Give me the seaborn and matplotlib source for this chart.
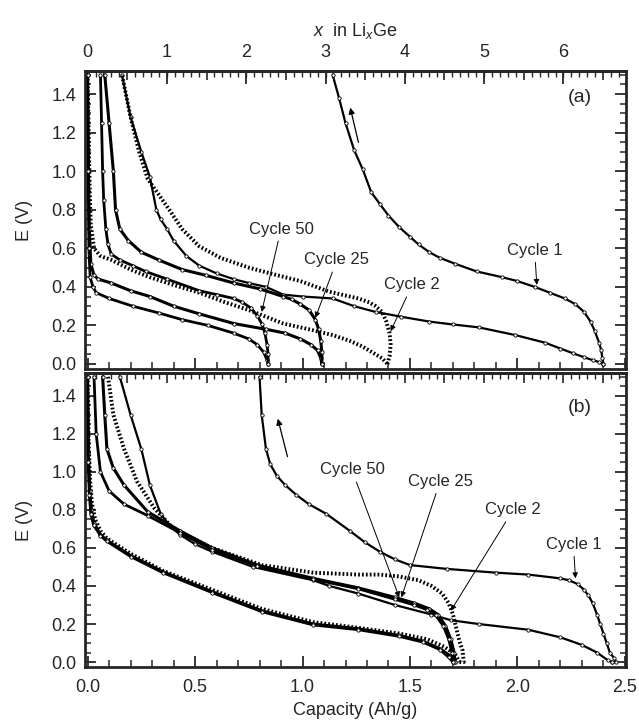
import numpy as np
import pandas as pd
import matplotlib
matplotlib.use("Agg")
import matplotlib.pyplot as plt
from matplotlib.ticker import MultipleLocator, NullFormatter, FuncFormatter, FixedLocator
import seaborn as sns

sns.set_style("ticks")
plt.rcParams['font.family'] = ['Liberation Sans', 'DejaVu Sans']
plt.rcParams['mathtext.fontset'] = 'custom'
plt.rcParams['mathtext.rm'] = 'Liberation Sans'
plt.rcParams['mathtext.it'] = 'Liberation Sans:italic'

# ---------------- data: panel (a) ----------------
a_c1_dis_cap = [0.16, 0.20, 0.25, 0.29, 0.32, 0.34, 0.37, 0.40, 0.46, 0.52, 0.60, 0.68, 0.75, 0.83,
                0.91, 1.00, 1.14, 1.24, 1.34, 1.46, 1.59, 1.70, 1.82, 1.99, 2.13, 2.20, 2.26, 2.31,
                2.35, 2.38, 2.40]
a_c1_dis_E = [1.50, 1.28, 1.10, 0.97, 0.80, 0.75, 0.70, 0.64, 0.56, 0.51, 0.47, 0.44, 0.42, 0.40,
              0.36, 0.35, 0.34, 0.30, 0.27, 0.245, 0.22, 0.205, 0.19, 0.15, 0.11, 0.08, 0.055, 0.035,
              0.02, 0.01, 0.00]
a_c1_chg_cap = [2.40, 2.395, 2.39, 2.38, 2.36, 2.34, 2.31, 2.27, 2.22, 2.15, 2.08, 2.00, 1.93, 1.81,
                1.71, 1.64, 1.59, 1.54, 1.50, 1.45, 1.40, 1.36, 1.32, 1.28, 1.24, 1.20, 1.17, 1.14]
a_c1_chg_E = [0.00, 0.03, 0.07, 0.11, 0.17, 0.22, 0.27, 0.31, 0.34, 0.37, 0.40, 0.43, 0.45, 0.48,
              0.52, 0.55, 0.58, 0.62, 0.66, 0.71, 0.77, 0.83, 0.89, 1.01, 1.11, 1.25, 1.38, 1.50]

a_c2_dis_cap = [0.0, 0.005, 0.01, 0.015, 0.03, 0.06, 0.11, 0.20, 0.29, 0.40, 0.52, 0.64, 0.75, 0.91,
                1.03, 1.14, 1.22, 1.28, 1.34, 1.37, 1.395]
a_c2_dis_E = [1.50, 1.20, 0.90, 0.72, 0.60, 0.56, 0.54, 0.49, 0.45, 0.41, 0.37, 0.32, 0.28, 0.21,
              0.18, 0.15, 0.12, 0.09, 0.05, 0.03, 0.00]
a_c2_chg_cap = [1.395, 1.405, 1.41, 1.405, 1.39, 1.37, 1.34, 1.31, 1.26, 1.22, 1.125, 0.99, 0.85, 0.75,
                0.62, 0.52, 0.44, 0.38, 0.33, 0.28, 0.24, 0.20, 0.16]
a_c2_chg_E = [0.00, 0.04, 0.10, 0.16, 0.22, 0.27, 0.30, 0.32, 0.34, 0.35, 0.375, 0.43, 0.47, 0.50,
              0.55, 0.61, 0.70, 0.80, 0.88, 0.96, 1.10, 1.28, 1.50]

a_c25_dis_cap = [0.0, 0.004, 0.008, 0.015, 0.03, 0.05, 0.11, 0.20, 0.29, 0.40, 0.52, 0.68, 0.83, 0.92,
                 0.99, 1.04, 1.07, 1.085, 1.09]
a_c25_dis_E = [1.50, 1.00, 0.70, 0.52, 0.46, 0.44, 0.42, 0.38, 0.35, 0.30, 0.26, 0.21, 0.18, 0.16,
               0.13, 0.10, 0.07, 0.03, 0.00]
a_c25_chg_cap = [1.09, 1.09, 1.085, 1.075, 1.06, 1.03, 0.99, 0.95, 0.91, 0.80, 0.68, 0.55, 0.44, 0.33,
                 0.25, 0.19, 0.15, 0.13, 0.12, 0.10, 0.08]
a_c25_chg_E = [0.00, 0.06, 0.12, 0.18, 0.23, 0.28, 0.31, 0.335, 0.35, 0.39, 0.42, 0.46, 0.49, 0.54,
               0.58, 0.64, 0.70, 0.80, 1.00, 1.25, 1.50]

a_c50_dis_cap = [0.0, 0.003, 0.006, 0.012, 0.025, 0.04, 0.10, 0.21, 0.33, 0.44, 0.56, 0.68, 0.75,
                 0.79, 0.82, 0.835, 0.84]
a_c50_dis_E = [1.50, 1.00, 0.60, 0.45, 0.40, 0.37, 0.34, 0.30, 0.265, 0.23, 0.20, 0.16, 0.13,
               0.10, 0.06, 0.02, 0.00]
a_c50_chg_cap = [0.84, 0.84, 0.835, 0.825, 0.81, 0.79, 0.76, 0.72, 0.68, 0.60, 0.52, 0.37, 0.27, 0.21,
                 0.15, 0.11, 0.095, 0.085, 0.075, 0.07, 0.065, 0.06]
a_c50_chg_E = [0.00, 0.05, 0.10, 0.16, 0.21, 0.25, 0.29, 0.32, 0.34, 0.36, 0.38, 0.44, 0.48, 0.51,
               0.54, 0.57, 0.62, 0.70, 0.85, 1.00, 1.25, 1.50]

# ---------------- data: panel (b) ----------------
b_c1_dis_cap = [0.15, 0.20, 0.25, 0.29, 0.34, 0.38, 0.43, 0.50, 0.58, 0.77, 1.05, 1.125, 1.26, 1.43,
                1.60, 1.69, 1.82, 2.05, 2.20, 2.30, 2.37, 2.42, 2.44]
b_c1_dis_E = [1.50, 1.30, 1.12, 0.93, 0.78, 0.72, 0.67, 0.62, 0.58, 0.50, 0.43, 0.40, 0.36, 0.30,
              0.25, 0.22, 0.20, 0.17, 0.13, 0.09, 0.05, 0.01, 0.00]
b_c1_chg_cap = [2.44, 2.46, 2.45, 2.43, 2.415, 2.40, 2.385, 2.37, 2.35, 2.33, 2.31, 2.28, 2.24, 2.20,
                2.05, 1.90, 1.67, 1.50, 1.43, 1.36, 1.29, 1.22, 1.11, 1.03, 0.97, 0.92, 0.88, 0.85,
                0.83, 0.81, 0.80]
b_c1_chg_E = [0.00, 0.00, 0.02, 0.05, 0.10, 0.15, 0.20, 0.25, 0.31, 0.35, 0.38, 0.41, 0.43, 0.44,
              0.46, 0.47, 0.49, 0.51, 0.54, 0.58, 0.63, 0.69, 0.78, 0.83, 0.88, 0.93, 0.98, 1.04,
              1.12, 1.30, 1.50]

b_c2_dis_cap = [0.0, 0.005, 0.012, 0.02, 0.035, 0.06, 0.09, 0.20, 0.35, 0.58, 0.81, 1.05, 1.26, 1.45,
                1.58, 1.66, 1.71, 1.73]
b_c2_dis_E = [1.50, 1.15, 0.95, 0.84, 0.75, 0.69, 0.65, 0.57, 0.48, 0.38, 0.28, 0.21, 0.18, 0.15,
              0.12, 0.08, 0.04, 0.00]
b_c2_chg_cap = [1.73, 1.75, 1.745, 1.73, 1.715, 1.70, 1.68, 1.65, 1.60, 1.54, 1.45, 1.36, 1.26, 1.05,
                0.81, 0.58, 0.40, 0.31, 0.23, 0.17, 0.12, 0.095]
b_c2_chg_E = [0.00, 0.00, 0.06, 0.11, 0.18, 0.25, 0.31, 0.36, 0.40, 0.43, 0.45, 0.46, 0.46, 0.47,
              0.51, 0.60, 0.70, 0.81, 0.95, 1.12, 1.30, 1.50]

b_c25_dis_cap = [0.0, 0.004, 0.01, 0.018, 0.03, 0.06, 0.09, 0.20, 0.35, 0.58, 0.81, 1.05, 1.26, 1.45,
                 1.56, 1.64, 1.69, 1.71]
b_c25_dis_E = [1.50, 1.10, 0.90, 0.80, 0.73, 0.67, 0.64, 0.56, 0.475, 0.37, 0.27, 0.20, 0.175, 0.14,
               0.11, 0.07, 0.03, 0.00]
b_c25_chg_cap = [1.71, 1.705, 1.69, 1.665, 1.63, 1.59, 1.52, 1.43, 1.26, 1.05, 0.79, 0.58, 0.43, 0.28,
                 0.17, 0.12, 0.09, 0.08, 0.07]
b_c25_chg_E = [0.00, 0.05, 0.12, 0.19, 0.25, 0.28, 0.31, 0.34, 0.39, 0.44, 0.51, 0.60, 0.69, 0.79,
               0.93, 1.02, 1.12, 1.30, 1.50]

b_c50_dis_cap = [0.0, 0.003, 0.008, 0.015, 0.028, 0.06, 0.09, 0.20, 0.35, 0.58, 0.81, 1.05, 1.26, 1.45,
                 1.56, 1.64, 1.68, 1.70]
b_c50_dis_E = [1.50, 1.05, 0.88, 0.78, 0.72, 0.665, 0.635, 0.555, 0.47, 0.365, 0.265, 0.195, 0.17,
               0.135, 0.105, 0.065, 0.025, 0.00]
b_c50_chg_cap = [1.70, 1.695, 1.68, 1.655, 1.62, 1.58, 1.52, 1.43, 1.26, 1.05, 0.79, 0.58, 0.43, 0.28,
                 0.17, 0.10, 0.06, 0.04, 0.03]
b_c50_chg_E = [0.00, 0.05, 0.12, 0.19, 0.245, 0.275, 0.30, 0.33, 0.385, 0.435, 0.505, 0.59, 0.68, 0.77,
               0.83, 0.90, 1.00, 1.20, 1.50]

# labels / annotations
cycle_names = ["Cycle 50", "Cycle 25", "Cycle 2", "Cycle 1"]
a_text_xy = [(0.90, 0.70), (1.16, 0.54), (1.51, 0.41), (2.08, 0.59)]
a_tip_xy = [(0.81, 0.27), (1.06, 0.24), (1.41, 0.17), (2.09, 0.41)]
b_text_xy = [(1.23, 1.01), (1.64, 0.95), (1.98, 0.80), (2.26, 0.62)]
b_tip_xy = [(1.45, 0.34), (1.46, 0.34), (1.69, 0.27), (2.27, 0.44)]
a_dir_arrow = [(1.26, 1.15), (1.222, 1.33)]
b_dir_arrow = [(0.93, 1.08), (0.885, 1.28)]
panel_tags = ["(a)", "(b)"]
panel_tag_xy = [(2.29, 1.38), (2.29, 1.34)]
li_tick_labels = [0, 1, 2, 3, 4, 5, 6]

AH_PER_LI = 0.369  # Ah/g per Li per Ge

# ---------------- build tables ----------------
def build(panel):
    rows = []
    g = globals()
    for cyc in ["c1", "c2", "c25", "c50"]:
        for leg in ["dis", "chg"]:
            caps = g[f"{panel}_{cyc}_{leg}_cap"]
            es = g[f"{panel}_{cyc}_{leg}_E"]
            for i, (c, e) in enumerate(zip(caps, es)):
                rows.append(dict(cap=c, E=e, curve=f"{cyc}_{leg}", order=i))
    return pd.DataFrame(rows)

dfs = {"a": build("a"), "b": build("b")}

mk = dict(marker="o", markersize=2.4, markerfacecolor="white", markeredgecolor="black",
          markeredgewidth=0.6)
styles = {
    "c1": dict(color="black", linewidth=1.6, linestyle="-", **mk),
    "c2": dict(color="black", linewidth=2.8, linestyle=(0, (0.45, 0.55))),
    "c25": dict(color="black", linewidth=2.2, linestyle="-", **mk),
    "c50": dict(color="black", linewidth=2.0, linestyle="-", **mk),
}

W, H = 639, 724
fig = plt.figure(figsize=(W / 100, H / 100), dpi=100)
ax1 = fig.add_axes([85 / W, 1 - 369 / H, 541 / W, 298 / H])
ax2 = fig.add_axes([85 / W, 1 - 667 / H, 541 / W, 294 / H])

FS = 13
for key, ax in zip(["a", "b"], [ax1, ax2]):
    df = dfs[key]
    for curve, sub in df.groupby("curve", sort=False):
        cyc = curve.split("_")[0]
        sub = sub.sort_values("order")
        sns.lineplot(data=sub, x="cap", y="E", sort=False, estimator=None, ax=ax,
                     legend=False, dashes=False, **styles[cyc])
    ax.set_xlim(-0.012, 2.505)
    ax.set_ylim(-0.026, 1.52)
    ax.set_ylabel("E (V)", fontsize=FS, labelpad=13)
    ax.yaxis.set_major_locator(MultipleLocator(0.2))
    ax.yaxis.set_minor_locator(MultipleLocator(0.05))
    ax.yaxis.set_major_formatter(FuncFormatter(lambda v, p: f"{v:.1f}"))
    ax.xaxis.set_major_locator(MultipleLocator(0.5))
    ax.xaxis.set_minor_locator(MultipleLocator(0.1))
    ax.xaxis.set_major_formatter(FuncFormatter(lambda v, p: f"{v:.1f}"))
    ax.tick_params(axis="y", which="major", direction="in", length=8, width=1.3,
                   left=True, right=True, labelsize=FS, pad=6)
    ax.tick_params(axis="y", which="minor", direction="in", length=4, width=1.1,
                   left=True, right=True)
    ax.tick_params(axis="x", which="major", direction="in", length=8, width=1.3,
                   bottom=True, top=False, labelsize=FS, pad=9)
    ax.tick_params(axis="x", which="minor", direction="in", length=5, width=1.1,
                   bottom=True, top=False)
    for s in ax.spines.values():
        s.set_linewidth(2.0)
        s.set_visible(True)

ax1.tick_params(axis="x", labelbottom=False)
ax1.set_xlabel("")
ax2.set_xlabel("Capacity (Ah/g)", fontsize=FS, labelpad=4)

fwd = lambda c: np.asarray(c) / AH_PER_LI
inv = lambda x: np.asarray(x) * AH_PER_LI

# top axis of (a): half-Li and tenth-Li ticks (no labels)
secA2 = ax1.secondary_xaxis("top", functions=(fwd, inv))
secA2.xaxis.set_major_locator(FixedLocator([v + 0.5 for v in li_tick_labels]))
secA2.xaxis.set_minor_locator(MultipleLocator(0.1))
secA2.xaxis.set_major_formatter(NullFormatter())
secA2.tick_params(which="major", direction="in", length=6.5, width=1.2)
secA2.tick_params(which="minor", direction="in", length=4, width=1.0)
secA2.spines["top"].set_linewidth(2.0)
# labelled integer Li ticks
secA = ax1.secondary_xaxis("top", functions=(fwd, inv))
secA.xaxis.set_major_locator(FixedLocator(li_tick_labels))
secA.xaxis.set_minor_locator(FixedLocator([]))
secA.xaxis.set_major_formatter(FuncFormatter(lambda v, p: f"{v:.0f}"))
secA.tick_params(which="major", direction="in", length=9, width=1.3, labelsize=FS, pad=7)
secA.set_xlabel(r"$\mathit{x}$  in Li$_{\mathit{x}}$Ge", fontsize=FS, labelpad=6)
secA.spines["top"].set_linewidth(2.0)

# top axis of (b): same Li scale without labels
secB = ax2.secondary_xaxis("top", functions=(fwd, inv))
secB.xaxis.set_major_locator(MultipleLocator(0.5))
secB.xaxis.set_minor_locator(MultipleLocator(0.1))
secB.xaxis.set_major_formatter(NullFormatter())
secB.tick_params(which="major", direction="in", length=7, width=1.2)
secB.tick_params(which="minor", direction="in", length=4, width=1.0)
secB.spines["top"].set_linewidth(2.0)

# annotations
for ax, txy, tips in [(ax1, a_text_xy, a_tip_xy), (ax2, b_text_xy, b_tip_xy)]:
    for name, t, tip in zip(cycle_names, txy, tips):
        ax.annotate(name, xy=tip, xytext=t, fontsize=12, ha="center", va="center",
                    arrowprops=dict(arrowstyle="-|>", lw=0.7, color="black",
                                    mutation_scale=8, shrinkA=1, shrinkB=0))

for ax, arr in [(ax1, a_dir_arrow), (ax2, b_dir_arrow)]:
    ax.annotate("", xy=arr[1], xytext=arr[0],
                arrowprops=dict(arrowstyle="-|>", lw=0.9, color="black",
                                mutation_scale=9, shrinkA=0, shrinkB=0))

for ax, tag, xy in zip([ax1, ax2], panel_tags, panel_tag_xy):
    ax.text(xy[0], xy[1], tag, fontsize=FS + 1, ha="center", va="center")

fig.savefig("out.png", dpi=100)
